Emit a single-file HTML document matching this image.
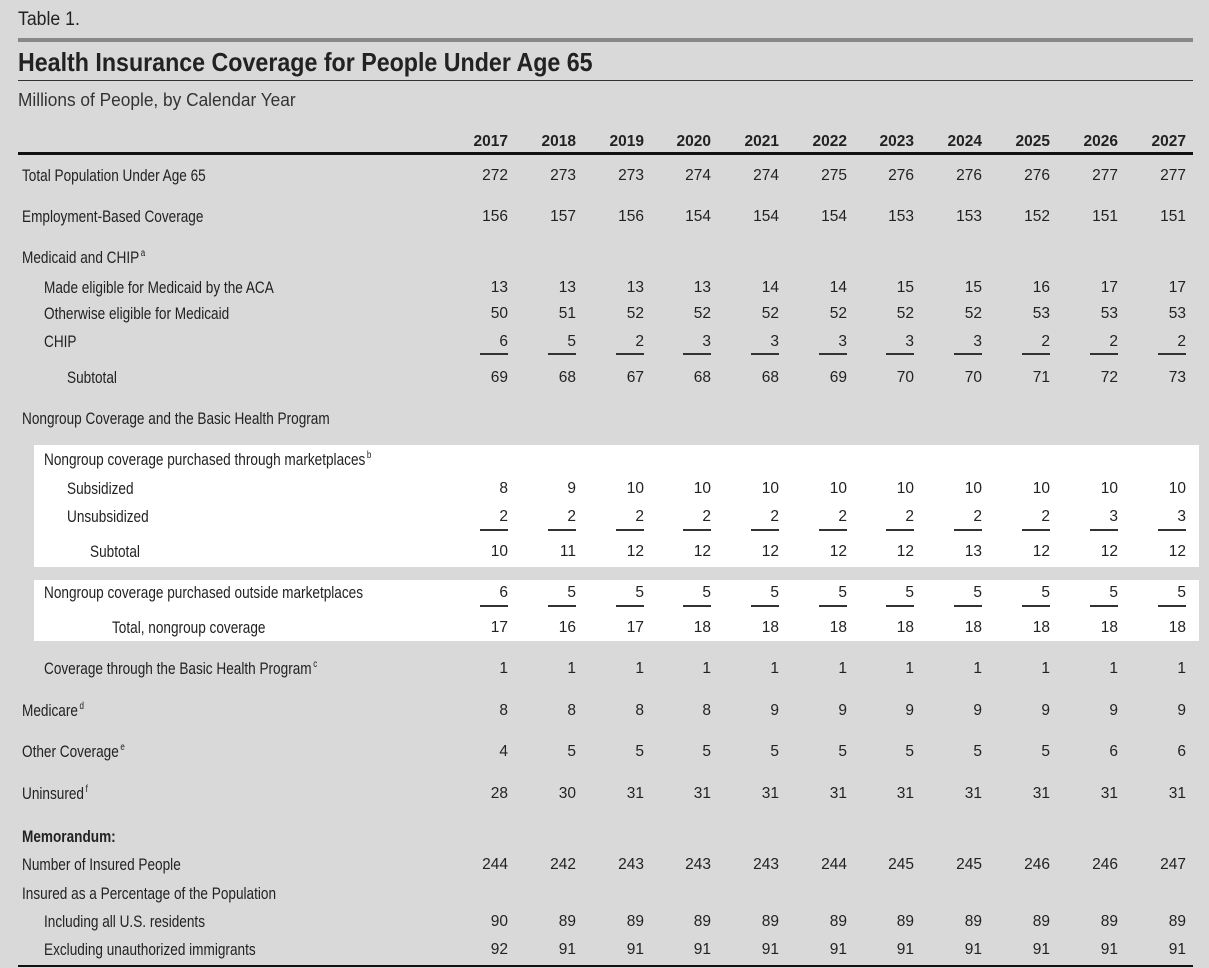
<!DOCTYPE html>
<html><head><meta charset="utf-8"><style>
body{margin:0;width:1209px;height:968px;background:#d9d9d9;position:relative;overflow:hidden;font-family:"Liberation Sans",sans-serif;color:#222;}
.a{position:absolute;white-space:nowrap;}
.r{position:absolute;left:0;width:1209px;height:20px;line-height:20px;font-size:16px;}
.r .l{position:absolute;white-space:nowrap;font-size:17px;transform:scaleX(0.8);transform-origin:0 0;}
.r span.n{position:absolute;width:60px;text-align:right;font-family:"Liberation Sans",sans-serif;font-size:15.5px;}
.hd span.n{font-weight:bold;}
.n1{left:448px}.n2{left:516px}.n3{left:584px}.n4{left:651px}.n5{left:719px}.n6{left:787px}.n7{left:854px}.n8{left:922px}.n9{left:990px}.n10{left:1058px}.n11{left:1126px}
.u{position:absolute;height:1.5px;background:#333;width:28px;}
sup{font-size:10px;vertical-align:7px;line-height:0;margin-left:2px}
.box{position:absolute;background:#fff;}
</style></head><body>
<div class="box" style="left:34px;top:445px;width:1165px;height:122px"></div>
<div class="box" style="left:34px;top:580px;width:1165px;height:61px"></div>
<div class="a" style="left:18px;top:9px;font-size:19px;transform:scaleX(0.93);transform-origin:0 0">Table 1.</div>
<div class="a" style="left:18px;top:38px;width:1175px;height:4px;background:#888"></div>
<div class="a" style="left:18px;top:47px;font-size:26px;font-weight:bold;color:#222;transform:scaleX(0.893);transform-origin:0 0">Health Insurance Coverage for People Under Age 65</div>
<div class="a" style="left:18px;top:80px;width:1175px;height:1px;background:#333"></div>
<div class="a" style="left:18px;top:90px;font-size:18px;color:#333;transform:scaleX(0.96);transform-origin:0 0">Millions of People, by Calendar Year</div>
<div class="a" style="left:18px;top:152px;width:1175px;height:3px;background:#111"></div>
<div class="a" style="left:18px;top:965px;width:1175px;height:2px;background:#111"></div>

<div class="r hd" style="top:132px"><span class="n n1">2017</span><span class="n n2">2018</span><span class="n n3">2019</span><span class="n n4">2020</span><span class="n n5">2021</span><span class="n n6">2022</span><span class="n n7">2023</span><span class="n n8">2024</span><span class="n n9">2025</span><span class="n n10">2026</span><span class="n n11">2027</span></div>

<div class="r" style="top:166px"><span class="l" style="left:22px">Total Population Under Age 65</span><span class="n n1">272</span><span class="n n2">273</span><span class="n n3">273</span><span class="n n4">274</span><span class="n n5">274</span><span class="n n6">275</span><span class="n n7">276</span><span class="n n8">276</span><span class="n n9">276</span><span class="n n10">277</span><span class="n n11">277</span></div>
<div class="r" style="top:207px"><span class="l" style="left:22px">Employment-Based Coverage</span><span class="n n1">156</span><span class="n n2">157</span><span class="n n3">156</span><span class="n n4">154</span><span class="n n5">154</span><span class="n n6">154</span><span class="n n7">153</span><span class="n n8">153</span><span class="n n9">152</span><span class="n n10">151</span><span class="n n11">151</span></div>
<div class="r" style="top:248px"><span class="l" style="left:22px">Medicaid and CHIP<sup>a</sup></span></div>
<div class="r" style="top:278px"><span class="l" style="left:44px">Made eligible for Medicaid by the ACA</span><span class="n n1">13</span><span class="n n2">13</span><span class="n n3">13</span><span class="n n4">13</span><span class="n n5">14</span><span class="n n6">14</span><span class="n n7">15</span><span class="n n8">15</span><span class="n n9">16</span><span class="n n10">17</span><span class="n n11">17</span></div>
<div class="r" style="top:304px"><span class="l" style="left:44px">Otherwise eligible for Medicaid</span><span class="n n1">50</span><span class="n n2">51</span><span class="n n3">52</span><span class="n n4">52</span><span class="n n5">52</span><span class="n n6">52</span><span class="n n7">52</span><span class="n n8">52</span><span class="n n9">53</span><span class="n n10">53</span><span class="n n11">53</span></div>
<div class="r" style="top:332px"><span class="l" style="left:44px">CHIP</span><span class="n n1">6</span><span class="n n2">5</span><span class="n n3">2</span><span class="n n4">3</span><span class="n n5">3</span><span class="n n6">3</span><span class="n n7">3</span><span class="n n8">3</span><span class="n n9">2</span><span class="n n10">2</span><span class="n n11">2</span>
<div class="u" style="left:480px;top:21px"></div><div class="u" style="left:548px;top:21px"></div><div class="u" style="left:616px;top:21px"></div><div class="u" style="left:683px;top:21px"></div><div class="u" style="left:751px;top:21px"></div><div class="u" style="left:819px;top:21px"></div><div class="u" style="left:886px;top:21px"></div><div class="u" style="left:954px;top:21px"></div><div class="u" style="left:1022px;top:21px"></div><div class="u" style="left:1090px;top:21px"></div><div class="u" style="left:1158px;top:21px"></div></div>
<div class="r" style="top:368px"><span class="l" style="left:67px">Subtotal</span><span class="n n1">69</span><span class="n n2">68</span><span class="n n3">67</span><span class="n n4">68</span><span class="n n5">68</span><span class="n n6">69</span><span class="n n7">70</span><span class="n n8">70</span><span class="n n9">71</span><span class="n n10">72</span><span class="n n11">73</span></div>
<div class="r" style="top:409px"><span class="l" style="left:22px">Nongroup Coverage and the Basic Health Program</span></div>
<div class="r" style="top:450px"><span class="l" style="left:44px">Nongroup coverage purchased through marketplaces<sup>b</sup></span></div>
<div class="r" style="top:479px"><span class="l" style="left:67px">Subsidized</span><span class="n n1">8</span><span class="n n2">9</span><span class="n n3">10</span><span class="n n4">10</span><span class="n n5">10</span><span class="n n6">10</span><span class="n n7">10</span><span class="n n8">10</span><span class="n n9">10</span><span class="n n10">10</span><span class="n n11">10</span></div>
<div class="r" style="top:507px"><span class="l" style="left:67px">Unsubsidized</span><span class="n n1">2</span><span class="n n2">2</span><span class="n n3">2</span><span class="n n4">2</span><span class="n n5">2</span><span class="n n6">2</span><span class="n n7">2</span><span class="n n8">2</span><span class="n n9">2</span><span class="n n10">3</span><span class="n n11">3</span>
<div class="u" style="left:480px;top:22px"></div><div class="u" style="left:548px;top:22px"></div><div class="u" style="left:616px;top:22px"></div><div class="u" style="left:683px;top:22px"></div><div class="u" style="left:751px;top:22px"></div><div class="u" style="left:819px;top:22px"></div><div class="u" style="left:886px;top:22px"></div><div class="u" style="left:954px;top:22px"></div><div class="u" style="left:1022px;top:22px"></div><div class="u" style="left:1090px;top:22px"></div><div class="u" style="left:1158px;top:22px"></div></div>
<div class="r" style="top:542px"><span class="l" style="left:90px">Subtotal</span><span class="n n1">10</span><span class="n n2">11</span><span class="n n3">12</span><span class="n n4">12</span><span class="n n5">12</span><span class="n n6">12</span><span class="n n7">12</span><span class="n n8">13</span><span class="n n9">12</span><span class="n n10">12</span><span class="n n11">12</span></div>
<div class="r" style="top:583px"><span class="l" style="left:44px">Nongroup coverage purchased outside marketplaces</span><span class="n n1">6</span><span class="n n2">5</span><span class="n n3">5</span><span class="n n4">5</span><span class="n n5">5</span><span class="n n6">5</span><span class="n n7">5</span><span class="n n8">5</span><span class="n n9">5</span><span class="n n10">5</span><span class="n n11">5</span>
<div class="u" style="left:480px;top:22px"></div><div class="u" style="left:548px;top:22px"></div><div class="u" style="left:616px;top:22px"></div><div class="u" style="left:683px;top:22px"></div><div class="u" style="left:751px;top:22px"></div><div class="u" style="left:819px;top:22px"></div><div class="u" style="left:886px;top:22px"></div><div class="u" style="left:954px;top:22px"></div><div class="u" style="left:1022px;top:22px"></div><div class="u" style="left:1090px;top:22px"></div><div class="u" style="left:1158px;top:22px"></div></div>
<div class="r" style="top:618px"><span class="l" style="left:112px">Total, nongroup coverage</span><span class="n n1">17</span><span class="n n2">16</span><span class="n n3">17</span><span class="n n4">18</span><span class="n n5">18</span><span class="n n6">18</span><span class="n n7">18</span><span class="n n8">18</span><span class="n n9">18</span><span class="n n10">18</span><span class="n n11">18</span></div>
<div class="r" style="top:659px"><span class="l" style="left:44px">Coverage through the Basic Health Program<sup>c</sup></span><span class="n n1">1</span><span class="n n2">1</span><span class="n n3">1</span><span class="n n4">1</span><span class="n n5">1</span><span class="n n6">1</span><span class="n n7">1</span><span class="n n8">1</span><span class="n n9">1</span><span class="n n10">1</span><span class="n n11">1</span></div>
<div class="r" style="top:701px"><span class="l" style="left:22px">Medicare<sup>d</sup></span><span class="n n1">8</span><span class="n n2">8</span><span class="n n3">8</span><span class="n n4">8</span><span class="n n5">9</span><span class="n n6">9</span><span class="n n7">9</span><span class="n n8">9</span><span class="n n9">9</span><span class="n n10">9</span><span class="n n11">9</span></div>
<div class="r" style="top:742px"><span class="l" style="left:22px">Other Coverage<sup>e</sup></span><span class="n n1">4</span><span class="n n2">5</span><span class="n n3">5</span><span class="n n4">5</span><span class="n n5">5</span><span class="n n6">5</span><span class="n n7">5</span><span class="n n8">5</span><span class="n n9">5</span><span class="n n10">6</span><span class="n n11">6</span></div>
<div class="r" style="top:784px"><span class="l" style="left:22px">Uninsured<sup>f</sup></span><span class="n n1">28</span><span class="n n2">30</span><span class="n n3">31</span><span class="n n4">31</span><span class="n n5">31</span><span class="n n6">31</span><span class="n n7">31</span><span class="n n8">31</span><span class="n n9">31</span><span class="n n10">31</span><span class="n n11">31</span></div>
<div class="r" style="top:827px"><span class="l" style="left:22px;font-weight:bold">Memorandum:</span></div>
<div class="r" style="top:855px"><span class="l" style="left:22px">Number of Insured People</span><span class="n n1">244</span><span class="n n2">242</span><span class="n n3">243</span><span class="n n4">243</span><span class="n n5">243</span><span class="n n6">244</span><span class="n n7">245</span><span class="n n8">245</span><span class="n n9">246</span><span class="n n10">246</span><span class="n n11">247</span></div>
<div class="r" style="top:884px"><span class="l" style="left:22px">Insured as a Percentage of the Population</span></div>
<div class="r" style="top:912px"><span class="l" style="left:44px">Including all U.S. residents</span><span class="n n1">90</span><span class="n n2">89</span><span class="n n3">89</span><span class="n n4">89</span><span class="n n5">89</span><span class="n n6">89</span><span class="n n7">89</span><span class="n n8">89</span><span class="n n9">89</span><span class="n n10">89</span><span class="n n11">89</span></div>
<div class="r" style="top:940px"><span class="l" style="left:44px">Excluding unauthorized immigrants</span><span class="n n1">92</span><span class="n n2">91</span><span class="n n3">91</span><span class="n n4">91</span><span class="n n5">91</span><span class="n n6">91</span><span class="n n7">91</span><span class="n n8">91</span><span class="n n9">91</span><span class="n n10">91</span><span class="n n11">91</span></div>
</body></html>
